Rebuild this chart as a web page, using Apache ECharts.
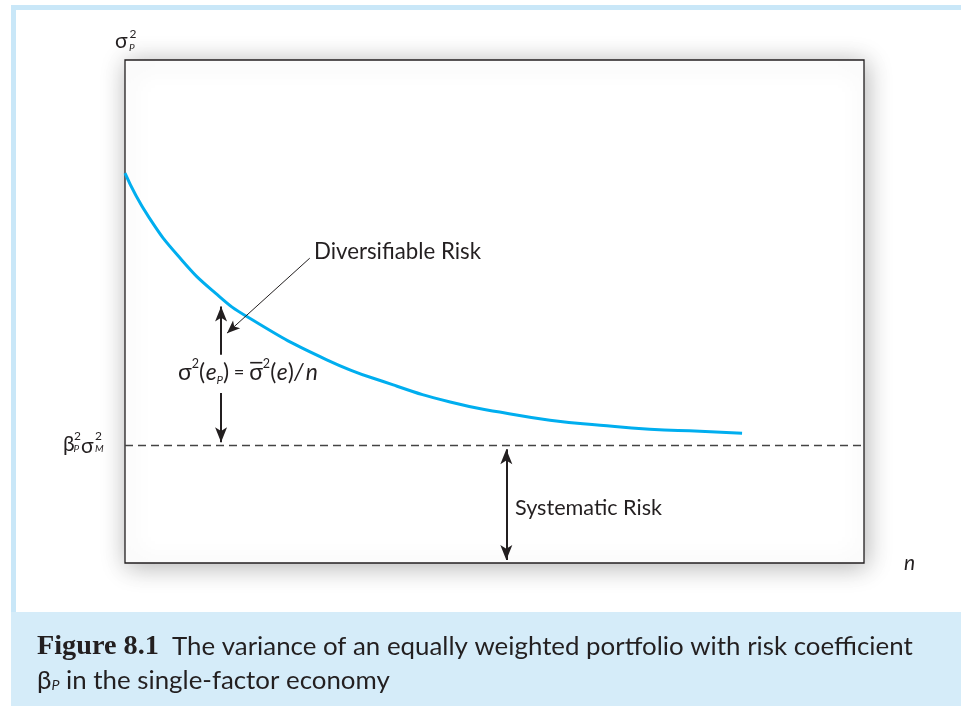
<!DOCTYPE html>
<html>
<head>
<meta charset="utf-8">
<script src="https://cdn.jsdelivr.net/npm/echarts@6/dist/echarts.min.js"></script>
<style>
html,body{margin:0;padding:0;background:#fff;}
#chart{width:961px;height:706px;}
</style>
</head>
<body>
<div id="chart"></div>
<script>
// ---- data ----
const nValues = [0, 3.2, 7.7, 12.2, 16.6, 27.3, 36.3, 44.0, 50.7, 57.5, 64.3, 71.0, 77.8, 83.5];
const portfolioVariance = [77.5, 68.8, 60.2, 53.7, 48.9, 40.4, 35.4, 32.0, 30.0, 28.4, 27.4, 26.6, 26.2, 25.8];
const systematicLevel = 23.5;
const diversArrowX = 13.0;
const diversUpper = [41.4, 51.0];
const diversLower = [33.8, 24.0];
const diversPointer = [[25.0, 60.6], [13.8, 45.7]];
const systArrowX = 51.6;
const systRange = [22.6, 0.6];

const INK = '#231f20';
const SANS = 'Lato, "Open Sans", "Noto Sans", sans-serif';
const SERIF = '"Liberation Serif", "DejaVu Serif", serif';

const cv = document.createElement('canvas').getContext('2d');
function fontStr(size, italic, bold, family) {
  return (italic ? 'italic ' : 'normal ') + (bold ? 'bold ' : 'normal ') + size + 'px ' + (family || SANS);
}
function measure(t, size, italic, bold, family) {
  cv.font = fontStr(size, italic, bold, family);
  return cv.measureText(t).width;
}
function txt(t, x, y, size, o) {
  o = o || {};
  return {
    type: 'text', x: x, y: y, silent: true,
    style: {
      text: t, font: fontStr(size, o.italic, o.bold, o.family),
      fill: o.fill || INK, textAlign: o.align || 'left', textVerticalAlign: 'middle'
    }
  };
}
function fitSize(t, width, base, o) {
  o = o || {};
  return +(base * width / measure(t, base, o.italic, o.bold, o.family)).toFixed(2);
}
function fitText(t, x, y, width, base, o) {
  return txt(t, x, y, fitSize(t, width, base, o), o);
}
// flow tokens horizontally, optionally scaled to a target width
function flow(tokens, x0, y, width) {
  let total = 0;
  tokens.forEach(tk => { total += measure(tk.t, tk.s, tk.i, tk.b, tk.f) + (tk.gap || 0); });
  const k = width ? width / total : 1;
  const out = [];
  let x = x0;
  tokens.forEach(tk => {
    const s = tk.s * k;
    const w = measure(tk.t, s, tk.i, tk.b, tk.f);
    out.push(txt(tk.t, x, y + (tk.dy || 0) * k, s, {italic: tk.i, bold: tk.b, family: tk.f}));
    if (tk.over) {
      out.push({type: 'line', silent: true, shape: {x1: x + 1, y1: y - 9 * k, x2: x + w - 0.5, y2: y - 9 * k}, style: {stroke: INK, lineWidth: 1.6}});
    }
    x += w + (tk.gap || 0) * k;
  });
  return out;
}

const graphics = [];
// page frame and caption band
graphics.push({type: 'rect', silent: true, z: -10, shape: {x: 11, y: 5, width: 5, height: 701}, style: {fill: '#c9e7f8'}});
graphics.push({type: 'rect', silent: true, z: -10, shape: {x: 11, y: 5, width: 950, height: 5}, style: {fill: '#c9e7f8'}});
graphics.push({type: 'rect', silent: true, z: -10, shape: {x: 11, y: 612, width: 950, height: 94}, style: {fill: '#d5ecf9'}});

// axis labels
graphics.push(txt('σ', 115, 41, 21));
graphics.push(txt('2', 129.5, 34, 12));
graphics.push(txt('P', 129, 48, 10, {italic: true}));

graphics.push(txt('β', 63, 444, 21));
graphics.push(txt('2', 74, 436, 12));
graphics.push(txt('P', 73.5, 449, 10, {italic: true}));
graphics.push(txt('σ', 81, 446, 21));
graphics.push(txt('2', 95, 436, 12));
graphics.push(txt('M', 95, 449, 10, {italic: true}));

graphics.push(txt('n', 904, 563, 21, {italic: true}));

// formula
flow([
  {t: 'σ', s: 20}, {t: '2', s: 11, dy: -8},
  {t: '(', s: 20, gap: 0.5}, {t: 'e', s: 20, i: true}, {t: 'P', s: 10, i: true, dy: 6}, {t: ')', s: 20},
  {t: ' = ', s: 16},
  {t: 'σ', s: 20, over: true}, {t: '2', s: 11, dy: -8},
  {t: '(', s: 20, gap: 0.5}, {t: 'e', s: 20, i: true}, {t: ')', s: 20}, {t: '/', s: 20, i: true, gap: 2}, {t: 'n', s: 20, i: true}
], 178, 373, 140).forEach(g => graphics.push(g));

graphics.push(fitText('Diversifiable Risk', 314, 252, 167, 18));
graphics.push(fitText('Systematic Risk', 515, 508, 147, 18));

// caption
graphics.push(fitText('Figure 8.1', 37, 647, 122, 22, {bold: true, family: SERIF}));
const capLine1 = 'The variance of an equally weighted portfolio with risk coefficient';
const capSize = fitSize(capLine1, 741, 20);
graphics.push(txt(capLine1, 172, 647, capSize));
flow([
  {t: 'β', s: capSize}, {t: 'P', s: capSize * 0.55, i: true, dy: 4},
  {t: ' in the single-factor economy', s: capSize}
], 37, 681).forEach(g => graphics.push(g));

const arrowLine = (from, to, symFrom, symTo, size, lw) => [
  {coord: from, symbol: symFrom, symbolSize: size, lineStyle: {color: INK, width: lw, type: 'solid'}},
  {coord: to, symbol: symTo, symbolSize: size}
];

const chart = echarts.init(document.getElementById('chart'), null, {renderer: 'canvas'});
chart.setOption({
  animation: false,
  backgroundColor: '#ffffff',
  grid: {
    left: 125, top: 60, width: 739, height: 503, show: true,
    backgroundColor: '#ffffff', borderColor: INK, borderWidth: 1.3,
    shadowColor: 'rgba(0,0,0,0.3)', shadowBlur: 24, shadowOffsetX: 2, shadowOffsetY: 3
  },
  xAxis: {type: 'value', min: 0, max: 100, show: false},
  yAxis: {type: 'value', min: 0, max: 100, show: false},
  series: [{
    type: 'line',
    data: nValues.map((n, i) => [n, portfolioVariance[i]]),
    smooth: 0.5,
    showSymbol: false,
    lineStyle: {color: '#00aeef', width: 3},
    silent: true,
    markLine: {
      silent: true,
      animation: false,
      label: {show: false},
      emphasis: {disabled: true},
      data: [
        [{coord: [0, systematicLevel], symbol: 'none', lineStyle: {color: '#444', width: 1.3, type: [8, 5]}},
         {coord: [100, systematicLevel], symbol: 'none'}],
        arrowLine([diversArrowX, diversUpper[0]], [diversArrowX, diversUpper[1]], 'none', 'arrow', [9, 15], 2),
        arrowLine([diversArrowX, diversLower[0]], [diversArrowX, diversLower[1]], 'none', 'arrow', [9, 15], 2),
        arrowLine(diversPointer[0], diversPointer[1], 'none', 'arrow', [8, 13], 1),
        arrowLine([systArrowX, systRange[0]], [systArrowX, systRange[1]], 'arrow', 'arrow', [9, 15], 2)
      ]
    }
  }],
  graphic: graphics
});
</script>
</body>
</html>
